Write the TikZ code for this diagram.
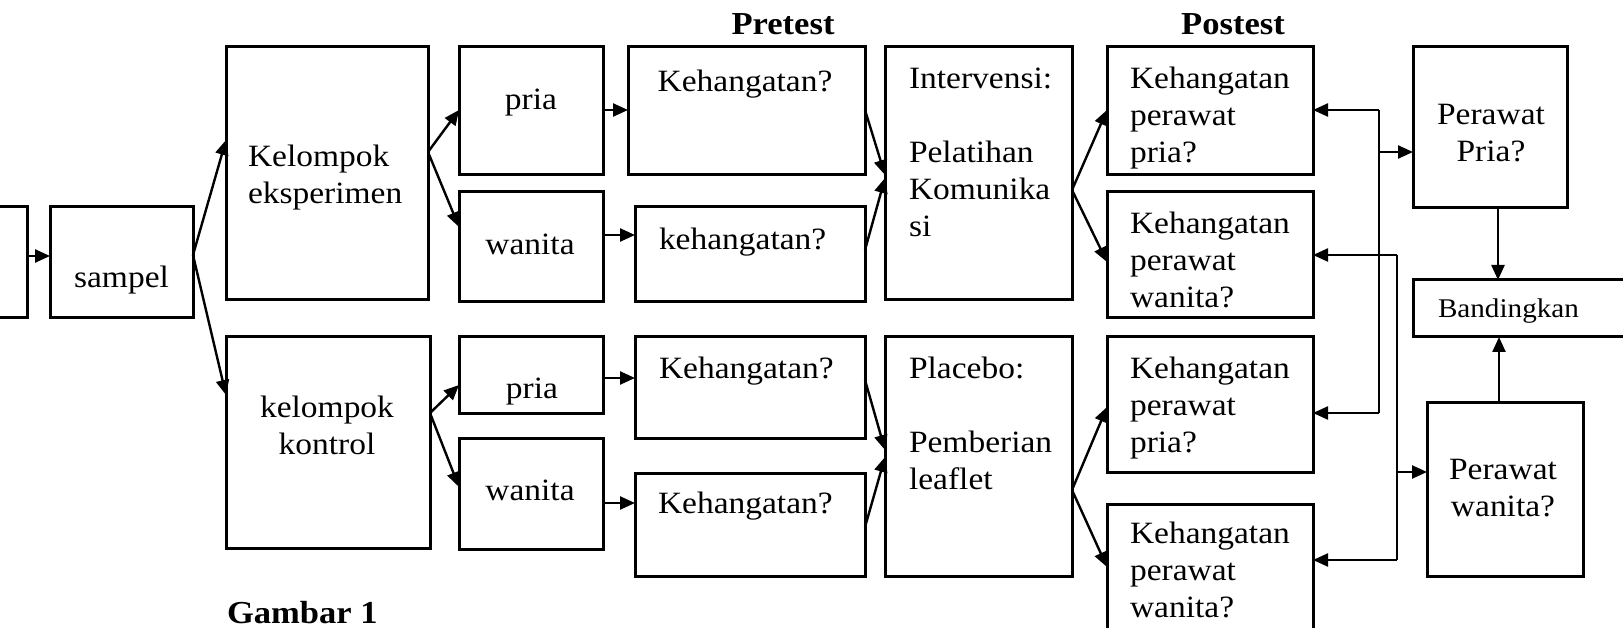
\documentclass[tikz,border=0pt]{standalone}
\usepackage{fontspec}
\setmainfont{Liberation Serif}[FakeStretch=1.08]
\usetikzlibrary{calc,arrows.meta}
\tikzset{
 box/.style={draw, line width=3pt, rectangle, inner sep=0pt, outer sep=0pt, anchor=north west},
 txt/.style={inner sep=0pt, outer sep=0pt, font=\fontsize{31}{37}\selectfont},
 hdr/.style={inner sep=0pt, outer sep=0pt, font=\fontsize{32}{37}\selectfont\bfseries},
 small/.style={inner sep=0pt, outer sep=0pt, font=\fontsize{27}{32}\selectfont},
 arr/.style={line width=2.4pt, -{Triangle[length=15pt,width=13pt]}},
 ln/.style={line width=2.4pt},
}
\begin{document}
\begin{tikzpicture}[x=1pt,y=-1pt]
\clip (0,0) rectangle (1623,628);
\fill[white] (0,0) rectangle (1623,628);
% boxes
\node[box, minimum width=57pt, minimum height=111pt] (L0) at (-30,207) {};
\node[box, minimum width=143pt, minimum height=111pt] (sampel) at (50,207) {};
\node[box, minimum width=202pt, minimum height=253pt] (eksp) at (226,47) {};
\node[box, minimum width=204pt, minimum height=211pt] (kontrol) at (226,337) {};
\node[box, minimum width=144pt, minimum height=128pt] (pria1) at (459,47) {};
\node[box, minimum width=144pt, minimum height=110pt] (wanita1) at (459,192) {};
\node[box, minimum width=237pt, minimum height=128pt] (kh1) at (628,47) {};
\node[box, minimum width=230pt, minimum height=95pt] (kh2) at (635,207) {};
\node[box, minimum width=144pt, minimum height=76pt] (pria2) at (459,337) {};
\node[box, minimum width=144pt, minimum height=111pt] (wanita2) at (459,438) {};
\node[box, minimum width=230pt, minimum height=101pt] (kh3) at (635,337) {};
\node[box, minimum width=230pt, minimum height=103pt] (kh4) at (635,473) {};
\node[box, minimum width=187pt, minimum height=253pt] (interv) at (885,47) {};
\node[box, minimum width=187pt, minimum height=239pt] (placebo) at (885,337) {};
\node[box, minimum width=206pt, minimum height=128pt] (post1) at (1107,47) {};
\node[box, minimum width=206pt, minimum height=126pt] (post2) at (1107,192) {};
\node[box, minimum width=206pt, minimum height=135pt] (post3) at (1107,337) {};
\node[box, minimum width=206pt, minimum height=136pt] (post4) at (1107,504) {};
\node[box, minimum width=154pt, minimum height=161pt] (pp) at (1413,47) {};
\node[box, minimum width=227pt, minimum height=57pt] (band) at (1413,280) {};
\node[box, minimum width=156pt, minimum height=174pt] (pw) at (1427,402) {};
% texts
\node[hdr, anchor=base] (tpre) at (783,35) {Pretest};
\node[hdr, anchor=base] (tpost) at (1233,35) {Postest};
\node[hdr, anchor=base west] (tgambar) at (227,623) {Gambar 1};
\node[txt, anchor=base] (tsampel) at (121.5,288) {sampel};
\node[txt, anchor=north west, align=left] (teksp) at (248,145) {Kelompok\\eksperimen};
\node[txt, anchor=north, align=center] (tkontrol) at (327,396) {kelompok\\kontrol};
\node[txt, anchor=base] (tpria1) at (531,110) {pria};
\node[txt, anchor=base] (twanita1) at (530,255) {wanita};
\node[txt, anchor=base] (tkh1) at (745,92) {Kehangatan?};
\node[txt, anchor=base west] (tkh2) at (659,250) {kehangatan?};
\node[txt, anchor=base] (tpria2) at (532,398) {pria};
\node[txt, anchor=base] (twanita2) at (530,500) {wanita};
\node[txt, anchor=base west] (tkh3) at (659,378) {Kehangatan?};
\node[txt, anchor=base west] (tkh4) at (658,513) {Kehangatan?};
\node[txt, anchor=north west, align=left] (tinterv) at (909,68) {Intervensi:\\[37pt]Pelatihan\\Komunika\\si};
\node[txt, anchor=north west, align=left] (tplacebo) at (909,357) {Placebo:\\[37pt]Pemberian\\leaflet};
\node[txt, anchor=north west, align=left] (tpost1) at (1130,67) {Kehangatan\\perawat\\pria?};
\node[txt, anchor=north west, align=left] (tpost2) at (1130,212) {Kehangatan\\perawat\\wanita?};
\node[txt, anchor=north west, align=left] (tpost3) at (1130,357) {Kehangatan\\perawat\\pria?};
\node[txt, anchor=north west, align=left] (tpost4) at (1130,522) {Kehangatan\\perawat\\wanita?};
\node[txt, anchor=north, align=center] (tpp) at (1491,104) {Perawat\\Pria?};
\node[txt, anchor=north, align=center] (tpw) at (1503,459) {Perawat\\wanita?};
\node[small, anchor=base west] (tband) at (1438,318) {Bandingkan};
% connectors
\draw[arr] ($(L0.north east)+(0,49)$) -- ($(sampel.north west)+(0,49)$);
\draw[arr] ($(sampel.north east)+(0,48)$) -- ($(eksp.north west)+(0,93)$);
\draw[arr] ($(sampel.north east)+(0,48)$) -- ($(kontrol.north west)+(0,58)$);
\draw[arr] ($(eksp.north east)+(0,105)$) -- ($(pria1.north west)+(0,63)$);
\draw[arr] ($(eksp.north east)+(0,105)$) -- ($(wanita1.north west)+(0,35)$);
\draw[arr] ($(pria1.north east)+(0,63)$) -- ($(kh1.north west)+(0,63)$);
\draw[arr] ($(wanita1.north east)+(0,43)$) -- ($(kh2.north west)+(0,28)$);
\draw[arr] ($(kh1.north east)+(0,63)$) -- ($(interv.north west)+(0,128)$);
\draw[arr] ($(kh2.north east)+(0,43)$) -- ($(interv.north west)+(0,131)$);
\draw[arr] ($(interv.north east)+(0,143)$) -- ($(post1.north west)+(0,63)$);
\draw[arr] ($(interv.north east)+(0,143)$) -- ($(post2.north west)+(0,70)$);
\draw[arr] ($(kontrol.north east)+(0,76)$) -- ($(pria2.north west)+(0,48)$);
\draw[arr] ($(kontrol.north east)+(0,76)$) -- ($(wanita2.north west)+(0,49)$);
\draw[arr] ($(pria2.north east)+(0,41)$) -- ($(kh3.north west)+(0,41)$);
\draw[arr] ($(wanita2.north east)+(0,65)$) -- ($(kh4.north west)+(0,30)$);
\draw[arr] ($(kh3.north east)+(0,43)$) -- ($(placebo.north west)+(0,113)$);
\draw[arr] ($(kh4.north east)+(0,54)$) -- ($(placebo.north west)+(0,120)$);
\draw[arr] ($(placebo.north east)+(0,153)$) -- ($(post3.north west)+(0,70)$);
\draw[arr] ($(placebo.north east)+(0,153)$) -- ($(post4.north west)+(0,63)$);
% bus A (pria)
\coordinate (a1) at ($(post1.north east)+(66,63)$);
\coordinate (a2) at ($(post3.north east)+(66,76)$);
\coordinate (ppin) at ($(pp.north west)+(0,105)$);
\draw[ln] (a1) -- (a2);
\draw[arr] (a1) -- ($(post1.north east)+(0,63)$);
\draw[arr] (a2) -- ($(post3.north east)+(0,76)$);
\draw[arr] (a1 |- ppin) -- (ppin);
% bus B (wanita)
\coordinate (b1) at ($(post2.north east)+(84,63)$);
\coordinate (b2) at ($(post4.north east)+(84,56)$);
\coordinate (pwin) at ($(pw.north west)+(0,70)$);
\draw[ln] (b1) -- (b2);
\draw[arr] (b1) -- ($(post2.north east)+(0,63)$);
\draw[arr] (b2) -- ($(post4.north east)+(0,56)$);
\draw[arr] (b1 |- pwin) -- (pwin);
% to Bandingkan
\coordinate (ps) at ($(pp.south)+(8,0)$);
\draw[arr] (ps) -- (ps |- band.north);
\coordinate (ws) at ($(pw.north)+(-6,0)$);
\draw[arr] (ws) -- (ws |- band.south);
\end{tikzpicture}
\end{document}
